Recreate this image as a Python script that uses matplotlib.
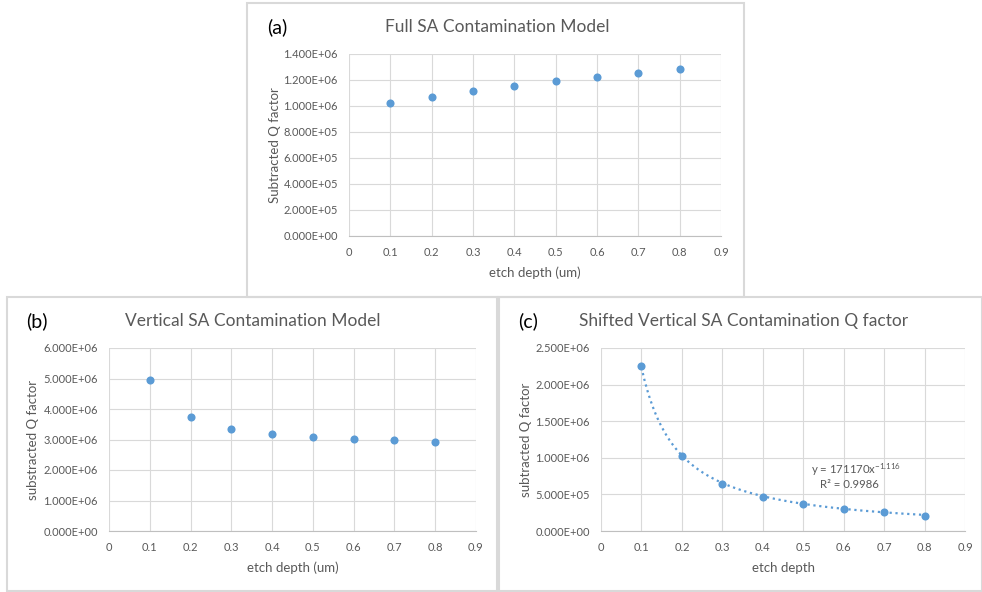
import numpy as np
import matplotlib
matplotlib.use('Agg')
import matplotlib.pyplot as plt
from matplotlib.patches import Rectangle
from matplotlib.ticker import FuncFormatter, MultipleLocator

plt.rcParams['font.family'] = ['Lato', 'DejaVu Sans']
plt.rcParams['mathtext.fontset'] = 'custom'
plt.rcParams['mathtext.rm'] = 'Lato'
plt.rcParams['mathtext.it'] = 'Lato:italic'

# data
depth = [0.1, 0.2, 0.3, 0.4, 0.5, 0.6, 0.7, 0.8]
q_full = [1.021e6, 1.067e6, 1.116e6, 1.152e6, 1.193e6, 1.226e6, 1.252e6, 1.287e6]
q_vert = [4.96e6, 3.73e6, 3.35e6, 3.19e6, 3.07e6, 3.01e6, 2.97e6, 2.92e6]
q_shift = [2.249e6, 1.026e6, 0.639e6, 0.465e6, 0.370e6, 0.301e6, 0.265e6, 0.210e6]
fit_a = 171170
fit_b = -1.116
fit_r2 = 0.9986

W, H = 982, 592
BLUE = '#5B9BD5'
GREY = '#595959'
GRID = '#D9D9D9'

fig = plt.figure(figsize=(W / 100, H / 100), dpi=100)


def frac(x0, y0, x1, y1):
    return [x0 / W, 1 - y1 / H, (x1 - x0) / W, (y1 - y0) / H]


def ftext(x, y, s, **kw):
    fig.text(x / W, 1 - y / H, s, **kw)


def sci(v, pos):
    m = f'{v:.3E}'
    mant, exp = m.split('E')
    return f'{mant}E{exp[0]}{int(exp[1:]):02d}'


def panel(box, area, x_data, y_data, ymax, ystep, label, title, tx, ylab, ylx, xlab, lab_x):
    fig.patches.append(Rectangle((box[0] / W, 1 - box[3] / H), (box[2] - box[0]) / W,
                                 (box[3] - box[1]) / H, transform=fig.transFigure,
                                 fill=False, edgecolor=GRID, lw=1.5))
    ax = fig.add_axes(frac(*area))
    ax.scatter(x_data, y_data, s=34, color=BLUE, zorder=3, linewidths=0)
    ax.set_xlim(0, 0.9)
    ax.set_ylim(0, ymax)
    ax.xaxis.set_major_locator(MultipleLocator(0.1))
    ax.yaxis.set_major_locator(MultipleLocator(ystep))
    ax.xaxis.set_major_formatter(FuncFormatter(lambda v, p: '0' if abs(v) < 1e-9 else f'{v:.1f}'))
    ax.yaxis.set_major_formatter(FuncFormatter(sci))
    ax.grid(True, color=GRID, lw=0.8)
    ax.set_axisbelow(True)
    for s in ['left', 'right', 'top']:
        ax.spines[s].set_visible(False)
    ax.spines['bottom'].set_color('#BFBFBF')
    ax.tick_params(length=0, labelsize=8, colors=GREY)
    ax.tick_params(axis='x', pad=8)
    ax.tick_params(axis='y', pad=8)
    ftext(lab_x, tx[1], label, fontsize=14, color='black', va='center', ha='left')
    ftext(tx[0], tx[1], title, fontsize=12.5, color=GREY, va='center', ha='center')
    ftext(ylx, (area[1] + area[3]) / 2, ylab, fontsize=9.5, color=GREY, rotation=90,
          va='center', ha='center')
    ftext((area[0] + area[2]) / 2, area[3] + 37, xlab, fontsize=9.5, color=GREY,
          va='center', ha='center')
    return ax


panel((247, 3, 744, 297), (349, 54, 721, 236), depth, q_full, 1.4e6, 2e5,
      '(a)', 'Full SA Contamination Model', (497, 27), 'Subtracted Q factor', 275,
      'etch depth (um)', 267)
panel((7, 297, 497, 591), (109, 348, 476, 531), depth, q_vert, 6e6, 1e6,
      '(b)', 'Vertical SA Contamination Model', (253, 321), 'substracted Q factor', 33,
      'etch depth (um)', 26)
ax_c = panel((499, 297, 982, 591), (601, 348, 965, 531), depth, q_shift, 2.5e6, 5e5,
             '(c)', 'Shifted Vertical SA Contamination Q factor', (744, 321),
             'subtracted Q factor', 526, 'etch depth', 518)

# power trendline
xs = np.linspace(depth[0], depth[-1], 200)
ax_c.plot(xs, fit_a * xs ** fit_b, ls=':', color=BLUE, lw=1.6, zorder=2)
ftext(856, 470, f'y = {fit_a}x$^{{{fit_b}}}$', fontsize=8.2, color=GREY, ha='center', va='center')
ftext(849, 485, f'R² = {fit_r2}', fontsize=8.2, color=GREY, ha='center', va='center')

fig.savefig('out.png', dpi=100)
